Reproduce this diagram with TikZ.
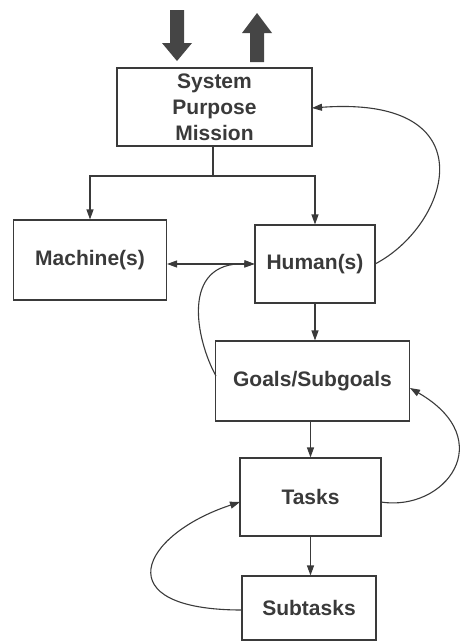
\documentclass[tikz,border=0pt]{standalone}
\usepackage{fontspec}
\setmainfont{Liberation Sans}
\usetikzlibrary{arrows.meta}
\definecolor{ink}{HTML}{3A3A3A}
\definecolor{blockgray}{HTML}{454545}
\tikzset{
  box/.style={draw=ink, line width=1.1pt, rectangle, inner sep=0pt, align=center,
    text=ink, font=\fontsize{21}{26}\selectfont\bfseries},
  conn/.style={draw=ink, line width=1.1pt, -{Triangle[length=10pt,width=7pt]}},
  conn2/.style={draw=ink, line width=1.1pt, {Triangle[length=10pt,width=7pt]}-{Triangle[length=10pt,width=7pt]}},
  plain/.style={draw=ink, line width=1.1pt},
  blockarrow/.style={fill=blockgray, draw=none}
}
\begin{document}
\begin{tikzpicture}[x=1pt,y=-1pt]
\useasboundingbox (0,0) rectangle (462,643);
% nodes
\node[box, minimum width=195pt, minimum height=78pt] (sys) at (214.5,107) {System\\Purpose\\Mission};
\node[box, minimum width=153pt, minimum height=80pt] (mach) at (90,260) {Machine(s)};
\node[box, minimum width=120pt, minimum height=78pt] (hum) at (315,264) {Human(s)};
\node[box, minimum width=194pt, minimum height=80pt] (goals) at (312.5,381) {Goals/Subgoals};
\node[box, minimum width=141pt, minimum height=78pt] (tasks) at (310.5,497) {Tasks};
\node[box, minimum width=134pt, minimum height=64pt] (sub) at (309,608) {Subtasks};
% big arrows
\fill[blockarrow] (170,10) -- (184,10) -- (184,43) -- (192,43) -- (177,61) -- (162,43) -- (170,43) -- cycle;
\fill[blockarrow] (257,13) -- (272,33) -- (264,33) -- (264,62) -- (250,62) -- (250,33) -- (242,33) -- cycle;
% branch
\coordinate (br) at (213,176);
\draw[plain] (sys.south -| br) -- (br);
\draw[conn] (br) -| (mach.north);
\draw[conn] (br) -| (hum.north);
% machine <-> human
\draw[conn2] (mach.east |- hum.west) -- (hum.west);
% goals -> human feedback
\coordinate (gw) at (216,376);
\draw[conn] (gw) .. controls (196,340) and (180,262) .. (hum.west);
% human -> system feedback
\coordinate (he) at (375,264);
\coordinate (se) at (312,108);
\draw[conn] (he) .. controls (450,225) and (490,95) .. (se);
% vertical chain
\draw[conn] (hum.south) -- (hum.south |- goals.north);
\draw[conn] (tasks.north |- goals.south) -- (tasks.north);
\draw[conn] (tasks.south) -- (tasks.south |- sub.north);
% tasks -> goals feedback
\coordinate (te) at (381,502);
\coordinate (ge) at (410,388);
\draw[conn] (te) .. controls (445,512) and (500,440) .. (ge);
% subtasks -> tasks feedback
\coordinate (sw) at (242,610);
\coordinate (tw) at (240,502);
\draw[conn] (sw) .. controls (105,610) and (140,535) .. (tw);
\end{tikzpicture}
\end{document}
